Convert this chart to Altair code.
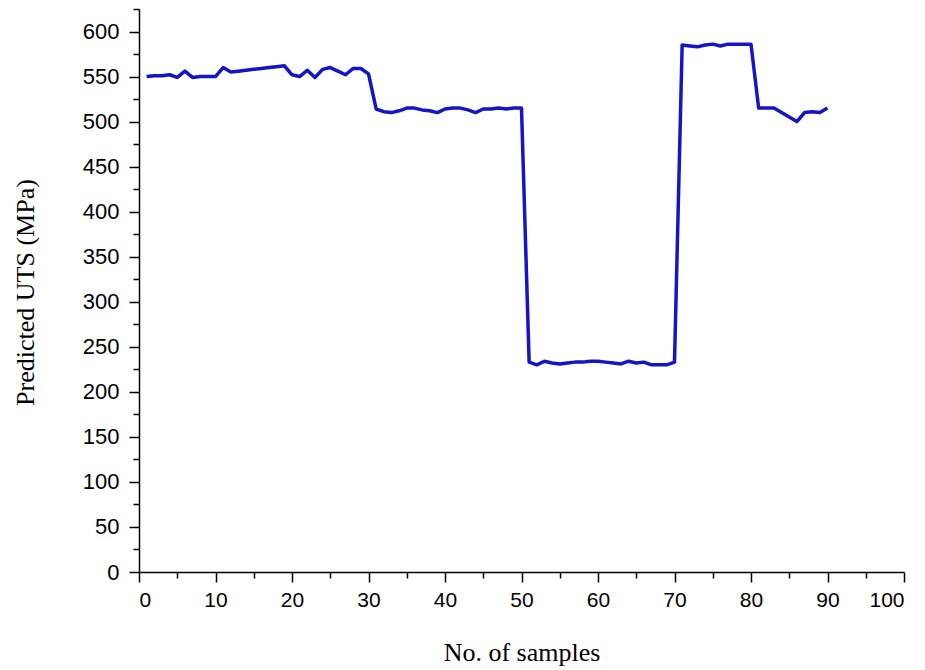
import altair as alt
import pandas as pd

samples = list(range(1, 91))
uts = [
    550, 551, 551, 552, 549, 556, 549, 550, 550, 550,
    560, 555, 556, 557, 558, 559, 560, 561, 562, 552,
    550, 557, 549, 558, 560, 556, 552, 559, 559, 553,
    514, 511, 510, 512, 515, 515, 513, 512, 510, 514,
    515, 515, 513, 510, 514, 514, 515, 514, 515, 515,
    233, 230, 234, 232, 231, 232, 233, 233, 234, 234,
    233, 232, 231, 234, 232, 233, 230, 230, 230, 233,
    585, 584, 583, 585, 586, 584, 586, 586, 586, 586,
    515, 515, 515, 510, 505, 500, 510, 511, 510, 515,
]
x_ticks = list(range(0, 101, 5))
y_ticks = list(range(0, 626, 25))

df = pd.DataFrame({"sample": samples, "uts": uts})

x_axis = alt.Axis(
    values=x_ticks,
    title="No. of samples",
    labelExpr="datum.value % 10 === 0 ? datum.label : ''",
    tickSize={"condition": {"test": "datum.value % 10 === 0", "value": 10}, "value": 6},
    labelFont="Liberation Sans Narrow, Liberation Sans",
    labelFontSize=21,
    labelPadding=7,
    labelColor="black",
    titleFont="Liberation Serif",
    titleFontSize=26,
    titleFontWeight="normal",
    titleColor="black",
    titleBaseline="alphabetic",
    titleY=88,
    grid=False,
    domainColor="black",
    domainWidth=1.5,
    tickColor="black",
    tickWidth=1.5,
)

y_axis = alt.Axis(
    values=y_ticks,
    title="Predicted UTS (MPa)",
    labelExpr="datum.value % 50 === 0 ? datum.label : ''",
    tickSize={"condition": {"test": "datum.value % 50 === 0", "value": 10}, "value": 6},
    labelFont="Liberation Sans",
    labelFontSize=22,
    labelPadding=10,
    labelColor="black",
    titleFont="Liberation Serif",
    titleFontSize=26,
    titleFontWeight="normal",
    titleColor="black",
    titleAngle=-90,
    titleBaseline="middle",
    titleAlign="center",
    titleX=-114,
    titleY=283,
    grid=False,
    domainColor="black",
    domainWidth=1.5,
    tickColor="black",
    tickWidth=1.5,
)

chart = (
    alt.Chart(df)
    .mark_line(color="#1414c8", strokeWidth=3.5, strokeJoin="round")
    .encode(
        x=alt.X("sample:Q", scale=alt.Scale(domain=[0, 100], nice=False, zero=False), axis=x_axis),
        y=alt.Y("uts:Q", scale=alt.Scale(domain=[0, 625], nice=False), axis=y_axis),
    )
    .properties(
        width=765,
        height=563,
        autosize="none",
        padding={"left": 139, "top": 9, "right": 21, "bottom": 98},
        background="white",
    )
    .configure_view(stroke=None)
    .configure_axisX(labelFontSize=21)
    .configure_axisY(labelFontSize=22)
)

chart.save("out.html", embed_options={"renderer": "svg", "actions": False})
